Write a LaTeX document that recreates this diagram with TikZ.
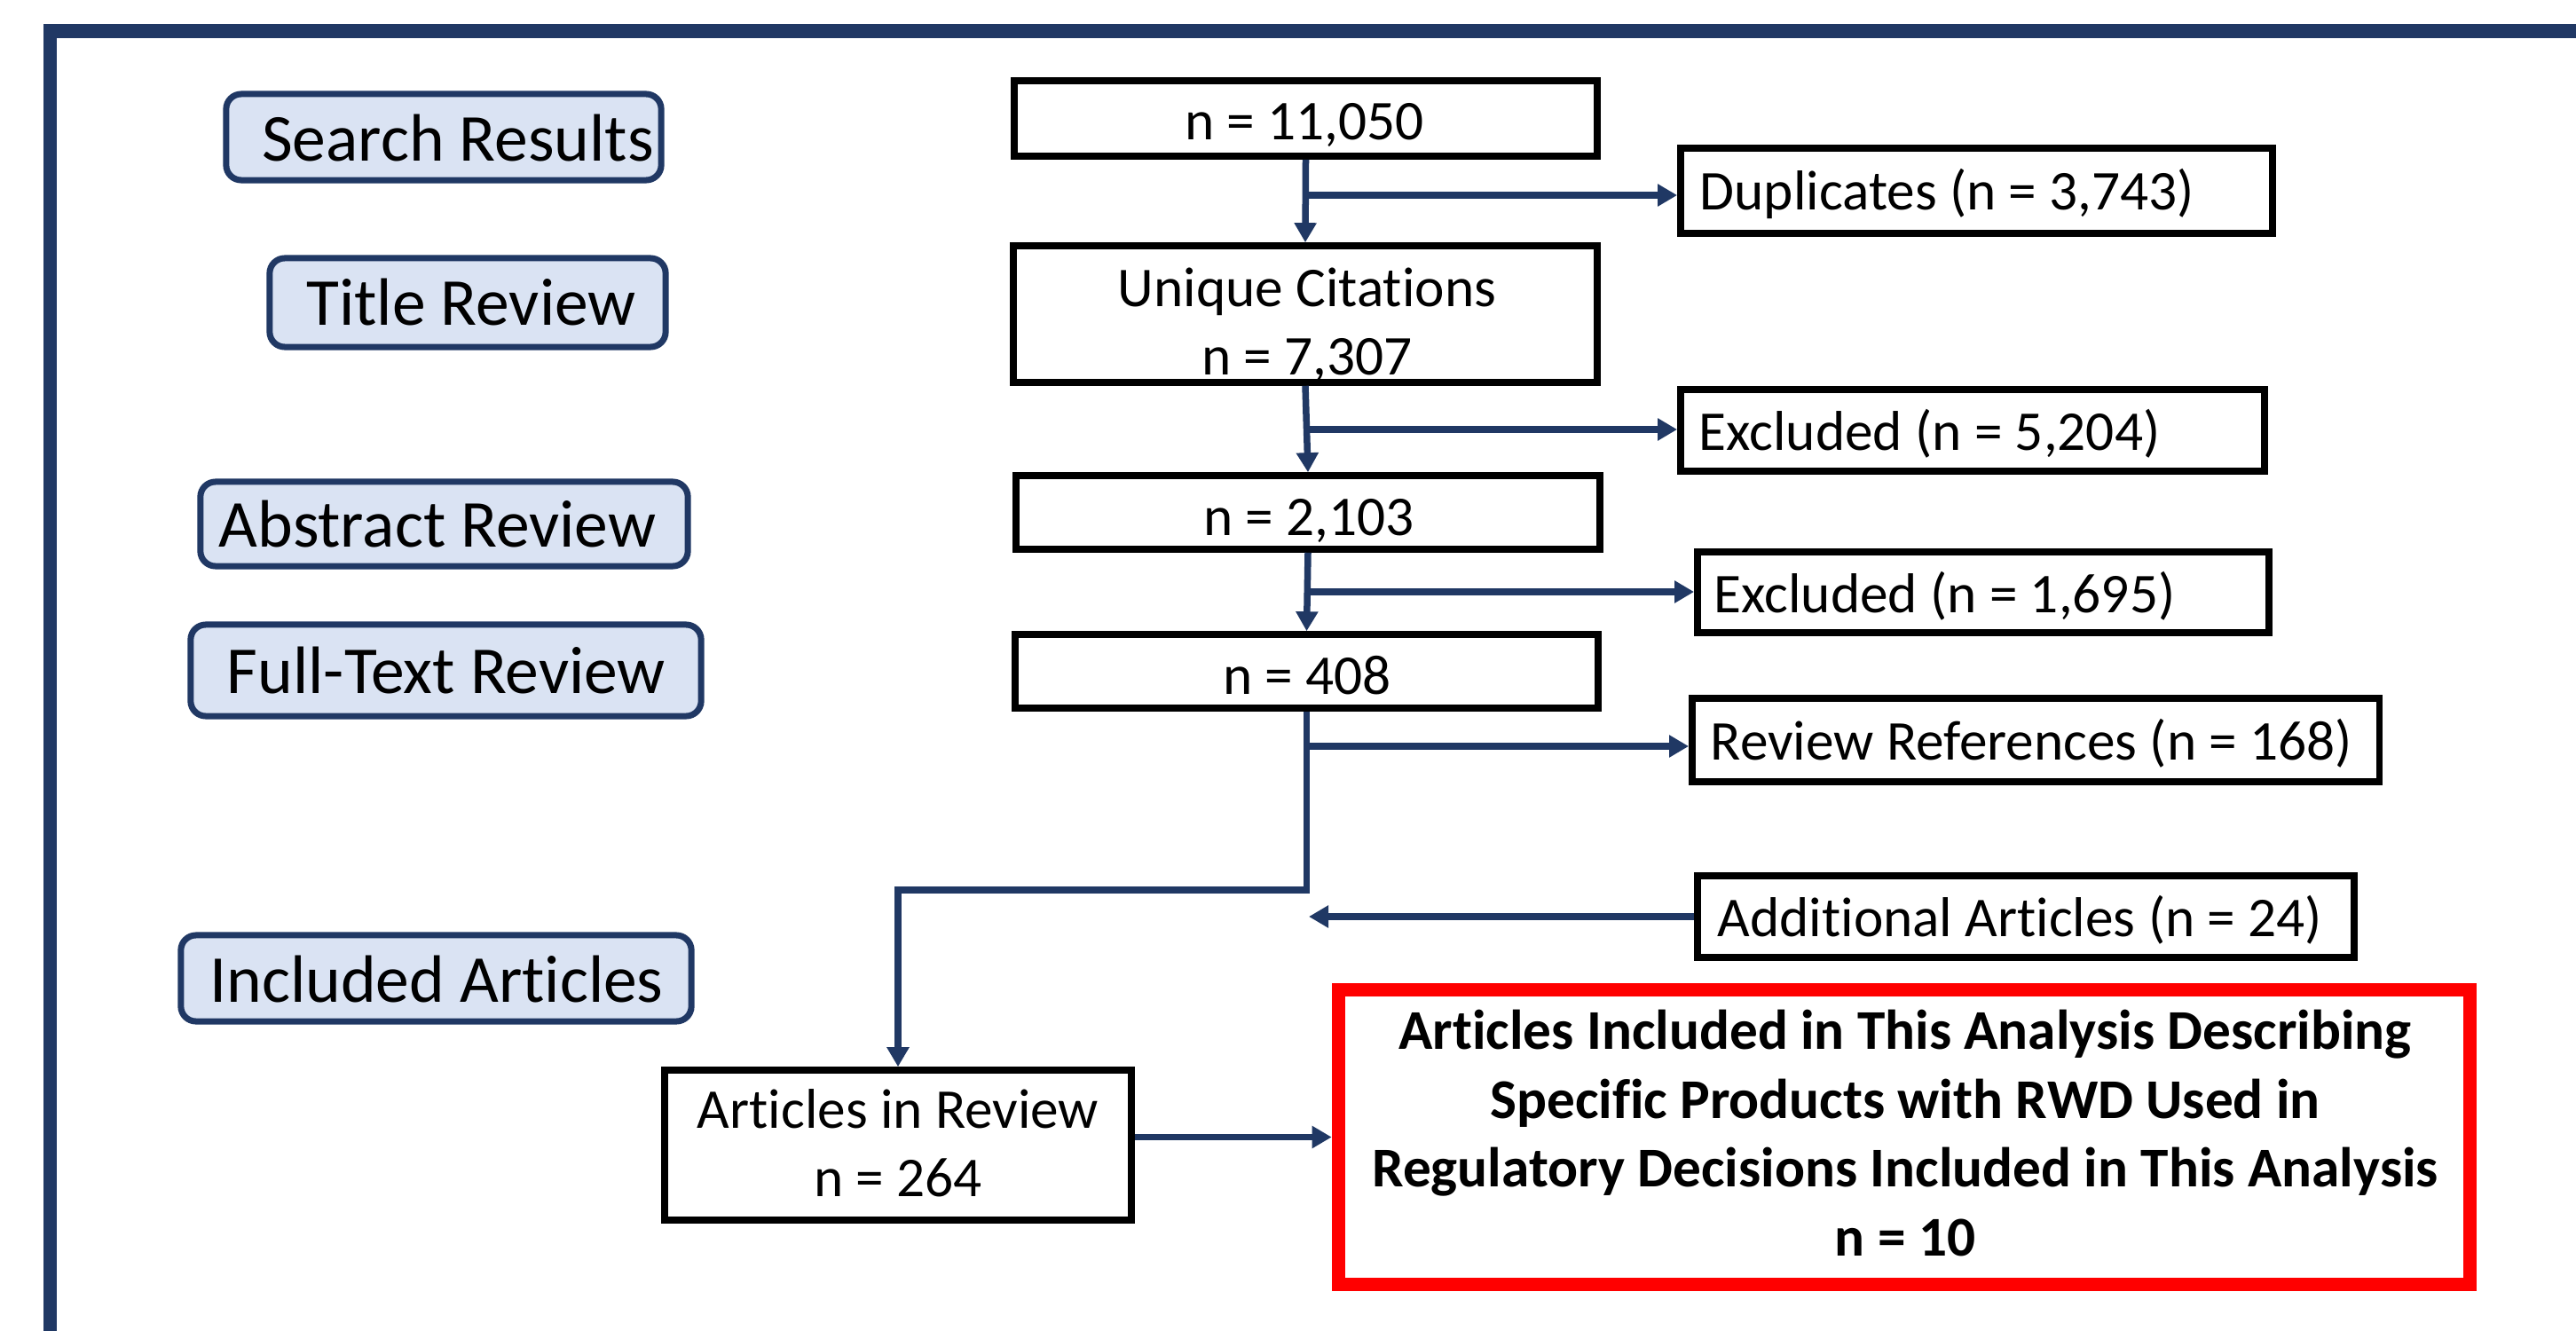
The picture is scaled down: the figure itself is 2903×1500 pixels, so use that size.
\documentclass[tikz,border=0pt]{standalone}
\usepackage{fontspec}
\setmainfont{Carlito}[Ligatures=NoCommon]
\usetikzlibrary{arrows.meta}
\definecolor{navy}{RGB}{32,56,100}
\definecolor{lightfill}{RGB}{218,227,243}
\definecolor{redbox}{RGB}{255,0,0}
\tikzset{
  mainbox/.style={draw=black, fill=white, line width=0.075cm, inner sep=0pt},
  labelbox/.style={draw=navy, fill=lightfill, line width=0.07cm, rounded corners=0.17cm, inner sep=0pt},
  redframe/.style={draw=redbox, fill=white, line width=0.15cm, inner sep=0pt},
  arr/.style={draw=navy, line width=0.075cm, -{Triangle[length=0.22cm,width=0.24cm]}},
  txt/.style={inner sep=0pt, anchor=base, font=\fontsize{18}{21.8}\selectfont},
  txtw/.style={txt, anchor=base west},
  btxt/.style={inner sep=0pt, anchor=base, font=\bfseries\fontsize{18}{21.8}\selectfont},
  ltxt/.style={inner sep=0pt, anchor=base, font=\fontsize{21.5}{26}\selectfont}
}
\begin{document}
\begin{tikzpicture}[x=0.01cm, y=-0.01cm]
\clip (0,0) rectangle (2903,1500);
\fill[white] (0,0) rectangle (2903,1500);
% frame
\draw[navy, line width=0.155cm, line join=miter] (56.5,1600) -- (56.5,35) -- (3000,35);

% left stage labels
\node[labelbox, minimum width=4.90cm, minimum height=0.97cm] (SR) at (500,154.5) {};
\node[ltxt] (tSR) at (516,182) {Search Results};
\node[labelbox, minimum width=4.46cm, minimum height=1.00cm] (TR) at (527,341) {};
\node[ltxt] (tTR) at (531,366) {Title Review};
\node[labelbox, minimum width=5.49cm, minimum height=0.95cm] (AR) at (500.5,590.5) {};
\node[ltxt] (tAR) at (493,616) {Abstract Review};
\node[labelbox, minimum width=5.75cm, minimum height=1.03cm] (FT) at (502.5,755.5) {};
\node[ltxt] (tFT) at (503,781) {Full-Text Review};
\node[labelbox, minimum width=5.75cm, minimum height=0.97cm] (IA) at (491.5,1102.5) {};
\node[ltxt] (tIA) at (492,1129) {Included Articles};

% main column
\node[mainbox, minimum width=6.57cm, minimum height=0.85cm] (A) at (1471.5,133.5) {};
\node[txt] (tA) at (1470,158) {n = 11,050};
\node[mainbox, minimum width=6.58cm, minimum height=1.54cm] (C) at (1471,354) {};
\node[txt] (tC1) at (1473,345) {Unique Citations};
\node[txt] (tC2) at (1473,422) {n = 7,307};
\node[mainbox, minimum width=6.58cm, minimum height=0.83cm] (D) at (1474,577.5) {};
\node[txt] (tD) at (1475,603) {n = 2,103};
\node[mainbox, minimum width=6.57cm, minimum height=0.83cm] (E) at (1472.5,756.5) {};
\node[txt] (tE) at (1473,782) {n = 408};
\node[mainbox, minimum width=5.26cm, minimum height=1.69cm] (F) at (1012,1290.5) {};
\node[txt] (tF1) at (1012,1271) {Articles in Review};
\node[txt] (tF2) at (1012,1348) {n = 264};

% right column
\node[mainbox, minimum width=6.67cm, minimum height=0.96cm] (B) at (2227.5,215) {};
\node[txtw] (tB) at (1915,237) {Duplicates (n = 3,743)};
\node[mainbox, minimum width=6.58cm, minimum height=0.92cm] (X1) at (2223,485) {};
\node[txtw] (tX1) at (1914,507) {Excluded (n = 5,204)};
\node[mainbox, minimum width=6.44cm, minimum height=0.91cm] (X2) at (2235,667.5) {};
\node[txtw] (tX2) at (1931,690) {Excluded (n = 1,695)};
\node[mainbox, minimum width=7.74cm, minimum height=0.94cm] (RR) at (2294,834) {};
\node[txtw] (tRR) at (1927,856) {Review References (n = 168)};
\node[mainbox, minimum width=7.40cm, minimum height=0.92cm] (AA) at (2283,1033) {};
\node[txtw] (tAA) at (1935,1055) {Additional Articles (n = 24)};

% red result box
\node[redframe, minimum width=12.75cm, minimum height=3.32cm] (R) at (2146,1281.5) {};
\node[btxt] (tR1) at (2147,1182) {Articles Included in This Analysis Describing};
\node[btxt] (tR2) at (2147,1260) {Specific Products with RWD Used in};
\node[btxt] (tR3) at (2147,1337) {Regulatory Decisions Included in This Analysis};
\node[btxt] (tR4) at (2147,1415) {n = 10};

% connectors
\coordinate (j1) at (1471.5,220);
\coordinate (j2) at (1473,484);
\coordinate (j3) at (1473,667);
\coordinate (j4) at (1472.5,841);
\coordinate (bend) at (1472.5,1003);
\coordinate (aaend) at (1475,1033);

\draw[arr] (A.south) -- (C.north);
\draw[arr] (j1) -- (j1 -| B.west);
\draw[arr] (C.south) -- (D.north);
\draw[arr] (j2) -- (j2 -| X1.west);
\draw[arr] (D.south) -- (E.north);
\draw[arr] (j3) -- (j3 -| X2.west);
\draw[arr] (E.south) -- (bend) -| (F.north);
\draw[arr] (j4) -- (j4 -| RR.west);
\draw[arr] (AA.west) -- (aaend);
\draw[arr] (R.west -| F.east) -- (R.west);
\end{tikzpicture}
\end{document}
